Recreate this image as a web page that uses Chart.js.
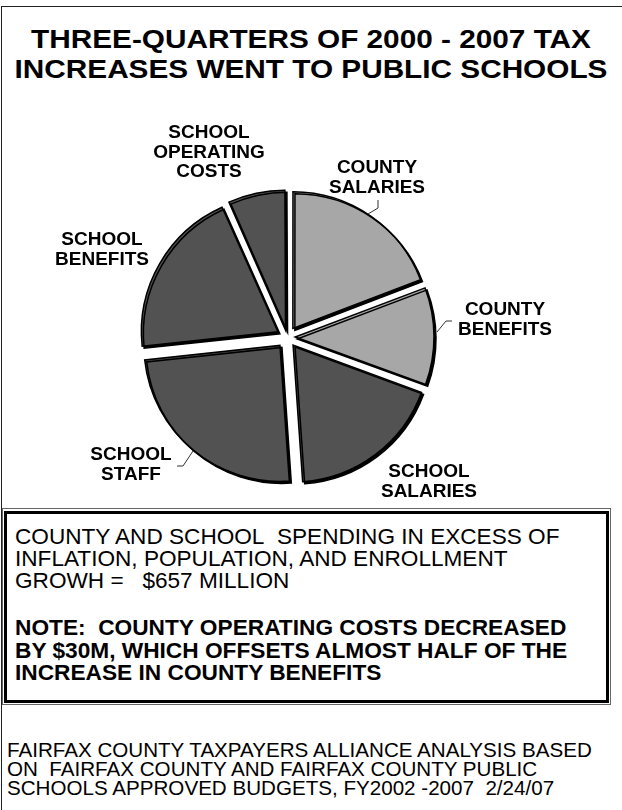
<!DOCTYPE html>
<html>
<head>
<meta charset="utf-8">
<script src="https://cdn.jsdelivr.net/npm/chart.js@4/dist/chart.umd.min.js"></script>
<style>
    body {
        margin: 0;
        background: #fff;
    }
    #page {
        position: relative;
        width: 622px;
        height: 810px;
        overflow: hidden;
        font-family: 'Liberation Sans', Arial, Helvetica, sans-serif;
        color: #000;
    }
    #frame {
        position: absolute;
        left: 1px;
        top: 6px;
        width: 640px;
        height: 820px;
        border-top: 1.5px solid #222;
        border-left: 1.5px solid #222;
    }
    #title {
        position: absolute;
        left: 0;
        top: 24px;
        width: 622px;
        text-align: center;
        font-weight: bold;
        font-size: 25px;
        line-height: 30px;
        white-space: nowrap;
        transform: scaleX(1.19);
        transform-origin: 311px 0;
    }
    #pie {
        position: absolute;
        left: 0;
        top: 100px;
    }
    #noteOuter {
        position: absolute;
        left: 2px;
        top: 508px;
        width: 609px;
        height: 197px;
        box-sizing: border-box;
        border: 1px solid #666;
    }
    #noteInner {
        position: absolute;
        left: 4px;
        top: 511px;
        width: 605px;
        height: 192px;
        box-sizing: border-box;
        border: 3px solid #000;
    }
    .txt {
        position: absolute;
        white-space: nowrap;
    }
    #spending {
        left: 15px;
        top: 526px;
        font-size: 22.6px;
        line-height: 22px;
    }
    #note {
        left: 15px;
        top: 616px;
        font-size: 22.7px;
        line-height: 22.5px;
        font-weight: bold;
    }
    #source {
        left: 7px;
        top: 740px;
        font-size: 20.6px;
        line-height: 19px;
    }
</style>
</head>
<body>
<div id="page">
    <div id="frame"></div>
    <div id="title">THREE-QUARTERS OF 2000 - 2007 TAX<br>INCREASES WENT TO PUBLIC SCHOOLS</div>
    <canvas id="pie" width="622" height="405"></canvas>
    <div id="noteOuter"></div>
    <div id="noteInner"></div>
    <div class="txt" id="spending">COUNTY AND SCHOOL&nbsp; SPENDING IN EXCESS OF<br>INFLATION, POPULATION, AND ENROLLMENT<br>GROWH =&nbsp;&nbsp; $657 MILLION</div>
    <div class="txt" id="note">NOTE:&nbsp; COUNTY OPERATING COSTS DECREASED<br>BY $30M, WHICH OFFSETS ALMOST HALF OF THE<br>INCREASE IN COUNTY BENEFITS</div>
    <div class="txt" id="source">FAIRFAX COUNTY TAXPAYERS ALLIANCE ANALYSIS BASED<br>ON&nbsp; FAIRFAX COUNTY AND FAIRFAX COUNTY PUBLIC<br>SCHOOLS APPROVED BUDGETS, FY2002 -2007&nbsp; 2/24/07</div>
</div>
<script>
// share of the 2000-2007 tax increase, percent (clockwise from 12 o'clock)
const categories = [
    ['COUNTY', 'SALARIES'],
    ['COUNTY', 'BENEFITS'],
    ['SCHOOL', 'SALARIES'],
    ['SCHOOL', 'STAFF'],
    ['SCHOOL', 'BENEFITS'],
    ['SCHOOL', 'OPERATING', 'COSTS'],
];
const shares = [19.2, 11.4, 18.3, 24.4, 20.0, 6.7];
const sliceColors = ['#a7a7a7', '#a7a7a7', '#525252', '#525252', '#525252', '#525252'];

// label text placement relative to the pie centre: [x, first baseline]
const labelSpots = [
    [90, -164],
    [218, -22],
    [142, 140],
    [-156, 123],
    [-185, -92],
    [-78, -199],
];
// short leader lines, relative to the pie centre
const leaders = [
    [[91, -137], [91, -129], [81, -123]],
    [[165, -16], [159, -16], [150, -5]],
    null,
    [[-110, 129], [-104, 129], [-94, 114]],
    null,
    null,
];

// how far every slice is pulled out, px
const explode = 11;

// chart.js moves an arc by offset/4 * (2 - sin(angle)), so undo that
// to push every slice out by the same distance
function sliceOffset(context) {
    const total = shares.reduce((a, b) => a + b, 0);
    const angle = (shares[context.dataIndex] / total) * Math.PI * 2;
    return (explode * 4) / (2 - Math.sin(Math.min(Math.PI, angle)));
}

// hard black drop shadow under the slices
const sliceShadow = {
    id: 'sliceShadow',
    beforeDatasetsDraw(chart) {
        const ctx = chart.ctx;
        ctx.save();
        ctx.shadowColor = '#000';
        ctx.shadowBlur = 0;
        ctx.shadowOffsetX = 2;
        ctx.shadowOffsetY = 2;
    },
    afterDatasetsDraw(chart) {
        chart.ctx.restore();
    },
};

const sliceLabels = {
    id: 'sliceLabels',
    afterDraw(chart) {
        const ctx = chart.ctx;
        const meta = chart.getDatasetMeta(0);
        const cx = meta.data[0].x;
        const cy = meta.data[0].y;
        ctx.save();
        ctx.font = 'bold 19px "Liberation Sans", Arial, sans-serif';
        ctx.fillStyle = '#000';
        ctx.textAlign = 'center';
        ctx.textBaseline = 'alphabetic';
        categories.forEach((lines, i) => {
            const spot = labelSpots[i];
            lines.forEach((line, j) => {
                ctx.fillText(line, cx + spot[0], cy + spot[1] + j * 19.5);
            });
        });
        ctx.strokeStyle = '#333';
        ctx.lineWidth = 1;
        leaders.forEach((pts) => {
            if (!pts) {
                return;
            }
            ctx.beginPath();
            pts.forEach((p, k) => {
                if (k == 0) {
                    ctx.moveTo(cx + p[0], cy + p[1]);
                } else {
                    ctx.lineTo(cx + p[0], cy + p[1]);
                }
            });
            ctx.stroke();
        });
        ctx.restore();
    },
};

let ctx = document.getElementById('pie');
let config = {
    type: 'pie',
    data: {
        labels: categories.map((c) => c.join(' ')),
        datasets: [
            {
                data: shares,
                backgroundColor: sliceColors,
                borderColor: '#000',
                borderWidth: 1.5,
                borderJoinStyle: 'miter',
                offset: sliceOffset,
                hoverOffset: 0,
            },
        ],
    },
    options: {
        responsive: false,
        animation: false,
        radius: 136,
        layout: {
            padding: { left: 140, right: 188, top: 90, bottom: 21 },
        },
        plugins: {
            legend: { display: false },
            tooltip: { enabled: false },
        },
        events: [],
    },
    plugins: [sliceShadow, sliceLabels],
};

let taxChart = new Chart(ctx, config);
</script>
</body>
</html>
